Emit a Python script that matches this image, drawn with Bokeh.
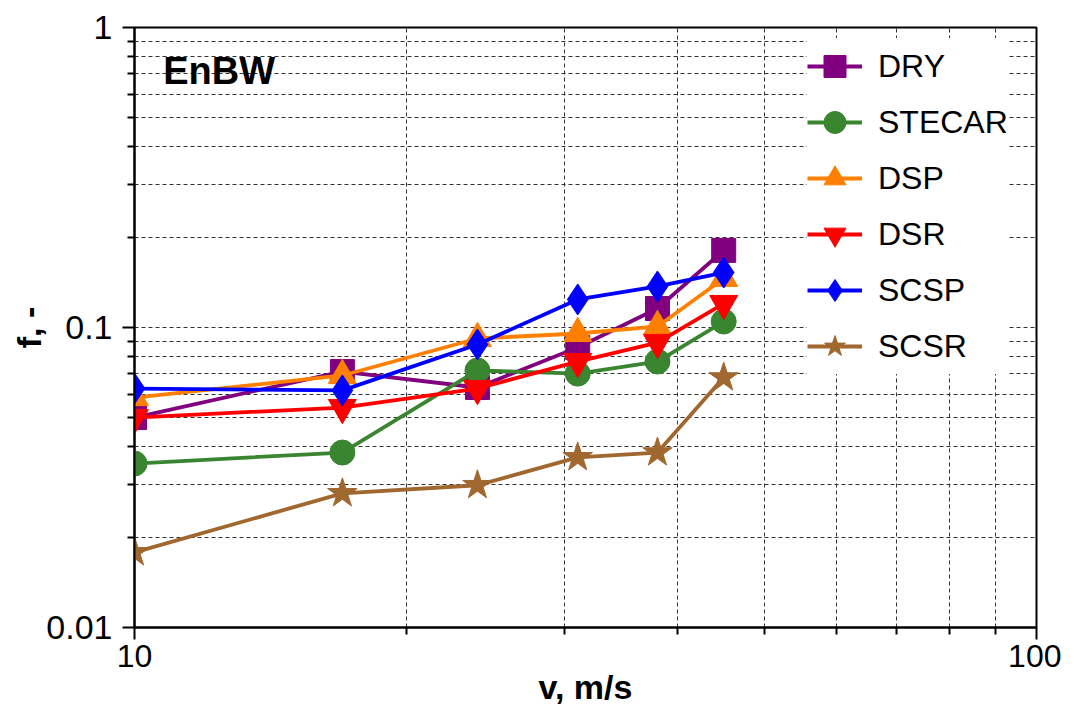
from bokeh.plotting import figure
from bokeh.models import FixedTicker, Label, Legend
from bokeh.embed import file_html
from bokeh.resources import INLINE

v = [10, 17, 24, 31, 38, 45]
dry = [0.0501, 0.0713, 0.0631, 0.0858, 0.1157, 0.1807]
stecar = [0.0352, 0.0383, 0.0719, 0.0702, 0.0770, 0.1047]
dsp = [0.0584, 0.0692, 0.0919, 0.0955, 0.1008, 0.1457]
dsr = [0.0501, 0.0541, 0.0626, 0.0770, 0.0891, 0.1202]
scsp = [0.0626, 0.0617, 0.0878, 0.1240, 0.1370, 0.1525]
scsr = [0.0178, 0.0280, 0.0298, 0.0369, 0.0383, 0.0681]

series = [
    ("DRY", dry, "#800080", "square", 24),
    ("STECAR", stecar, "#3a8530", "circle", 25),
    ("DSP", dsp, "#ff8000", "triangle", 28),
    ("DSR", dsr, "#ff0000", "inverted_triangle", 28),
    ("SCSP", scsp, "#0000ff", "diamond", 31),
    ("SCSR", scsr, "#a0672f", "star", 31),
]

x_major = [10, 100]
x_minor = [m * 10 for m in range(2, 10)]
y_major = [0.01, 0.1, 1]
y_minor = [m * 10.0 ** e for e in (-2, -1) for m in range(2, 10)]
x_labels = {10: "10", 100: "100"}
y_labels = {0.01: "0.01", 0.1: "0.1", 1: "1"}

FONT = "Liberation Sans"

p = figure(width=1061, height=709, x_axis_type="log", y_axis_type="log",
           x_range=(10, 100), y_range=(0.01, 1),
           output_backend="svg", toolbar_location=None,
           min_border_left=134, min_border_right=25, min_border_top=27,
           min_border_bottom=82)
p.background_fill_color = "white"
p.border_fill_color = "white"
p.outline_line_color = "black"
p.outline_line_width = 2

p.xaxis.ticker = FixedTicker(ticks=x_major, minor_ticks=x_minor)
p.yaxis.ticker = FixedTicker(ticks=y_major, minor_ticks=y_minor)
xo = {}
for k, s in x_labels.items():
    xo[float(k)] = s
    xo[str(k)] = s
yo = {}
for k, s in y_labels.items():
    yo[float(k)] = s
    yo[str(k)] = s
p.xaxis.major_label_overrides = xo
p.yaxis.major_label_overrides = yo

for ax in (p.xaxis[0], p.yaxis[0]):
    ax.axis_line_color = "black"
    ax.axis_line_width = 2
    ax.major_tick_line_color = "black"
    ax.major_tick_line_width = 2
    ax.major_tick_in = 0
    ax.major_tick_out = 12
    ax.minor_tick_line_color = "black"
    ax.minor_tick_line_width = 2
    ax.minor_tick_in = 0
    ax.minor_tick_out = 7
    ax.major_label_text_font = FONT
    ax.major_label_text_font_size = "34px"
    ax.major_label_text_color = "black"
    ax.axis_label_text_font = FONT
    ax.axis_label_text_font_size = "34px"
    ax.axis_label_text_font_style = "bold"
    ax.axis_label_text_color = "black"
p.xaxis.major_label_text_font_size = "32px"

p.xaxis.axis_label = "v, m/s"
p.yaxis.axis_label = "f, -"
p.xaxis.major_label_standoff = 5
p.yaxis.major_label_standoff = 10
p.xaxis.axis_label_standoff = -2
p.yaxis.axis_label_standoff = -5

for g in (p.xgrid[0], p.ygrid[0]):
    g.grid_line_color = "#333333"
    g.grid_line_dash = "4 3"
    g.grid_line_width = 1
    g.minor_grid_line_color = "#333333"
    g.minor_grid_line_dash = "4 3"
    g.minor_grid_line_width = 1

items = []
for name, vals, color, marker, size in series:
    r1 = p.line(v, vals, line_color=color, line_width=3.8)
    r2 = p.scatter(v, vals, marker=marker, size=size, fill_color=color,
                   line_color=color, line_width=1)
    items.append((name, [r1, r2]))

legend = Legend(items=items, location=(673, 253))
legend.label_text_font = FONT
legend.label_text_font_size = "32px"
legend.label_text_color = "black"
legend.glyph_width = 55
legend.glyph_height = 56
legend.label_height = 56
legend.label_standoff = 16
legend.spacing = 0
legend.padding = 10
legend.border_line_color = None
legend.background_fill_color = "white"
legend.background_fill_alpha = 1.0
p.add_layout(legend, "center")

p.add_layout(Label(x=10.76, y=0.714, text="EnBW", text_font=FONT,
                   text_font_style="bold", text_font_size="38px",
                   text_color="black", text_baseline="alphabetic"))

open("out.html", "w").write(file_html(p, INLINE))
